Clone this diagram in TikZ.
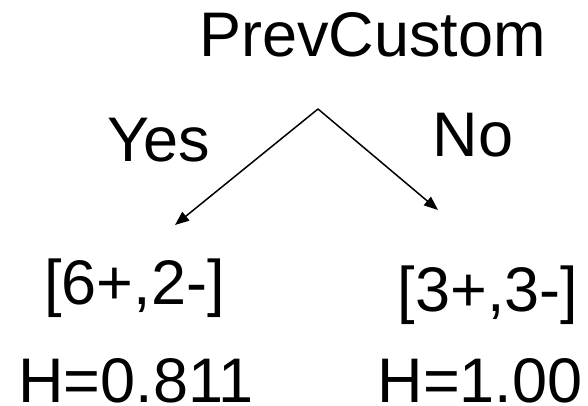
\documentclass[tikz,border=0pt]{standalone}
\usepackage{fontspec}
\setmainfont{Liberation Sans}
\usetikzlibrary{arrows.meta}
\begin{document}
\begin{tikzpicture}[x=1pt,y=1pt,
  lbl/.style={inner sep=0pt,anchor=base,font=\fontsize{63}{63}\selectfont},
  conn/.style={line width=1.5pt,-{Triangle[length=14pt,width=11pt]}}]
\useasboundingbox[fill=white] (0,0) rectangle (588,406);
\node[lbl] (root) at (372.5,349) {PrevCustom};
\node[lbl] (yes) at (159,244) {Yes};
\node[lbl] (no) at (473,249) {No};
\node[lbl] (l1) at (134.5,101) {[6+,2-]};
\node[lbl] (r1) at (488,94) {[3+,3-]};
\node[lbl] (l2) at (136,3) {H=0.811};
\node[lbl] (r2) at (480,3) {H=1.00};
\coordinate (apex) at (318,297);
\coordinate (ltip) at (175,181);
\coordinate (rtip) at (438,196);
\draw[conn] (apex) -- (ltip);
\draw[conn] (apex) -- (rtip);
\end{tikzpicture}
\end{document}
